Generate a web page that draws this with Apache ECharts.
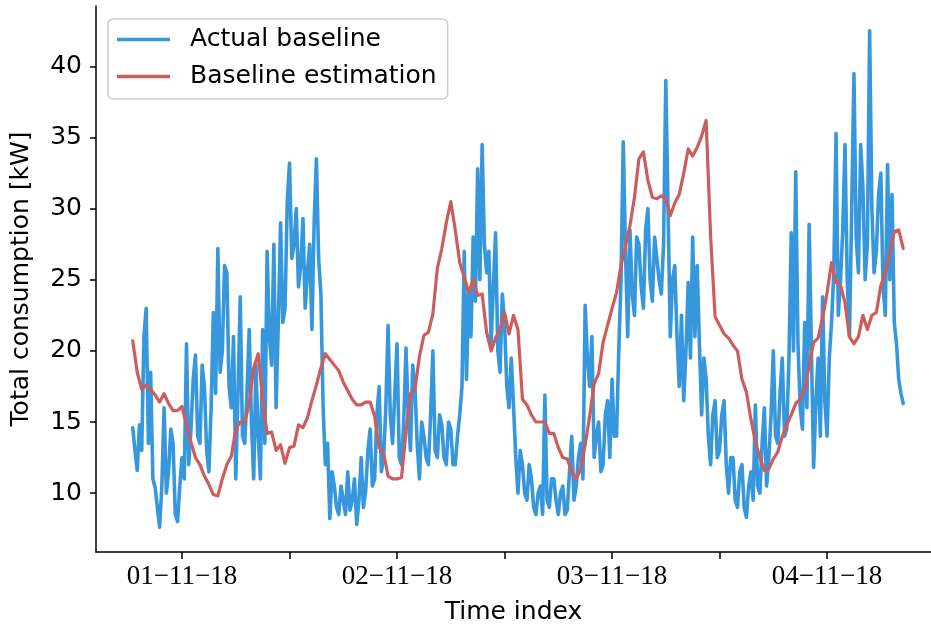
<!DOCTYPE html>
<html><head><meta charset="utf-8">
<script src="https://cdn.jsdelivr.net/npm/echarts@6/dist/echarts.min.js"></script>
<style>html,body{margin:0;padding:0;background:#fff}#c{width:931px;height:630px}</style>
</head><body><div id="c"></div>
<script>
// ---- data ----
const seriesNames = ['Actual baseline', 'Baseline estimation'];
const xTickLabels = ['01−11−18', '02−11−18', '03−11−18', '04−11−18'];
const xLabelHours = [0, 24, 48, 72];
const xTickHours = [0, 12, 24, 36, 48, 60, 72];
const yTickValues = [10, 15, 20, 25, 30, 35, 40];
// first sample 5.5 h before the first date label
const startHour = -5.5;
const actualStepHours = 0.25;      // quarter-hour samples
const estimationStepHours = 0.5;   // half-hour samples
const actualBaseline = [
  14.6, 13.0, 11.6, 14.8, 13.0, 21.0, 23.0, 13.5, 18.5, 11.0, 10.4, 9.0, 7.6, 10.5, 16.0, 10.0, 11.5, 14.5, 13.5, 8.5,
  8.0, 10.5, 12.5, 11.0, 20.5, 12.0, 14.5, 18.0, 19.7, 14.0, 13.5, 19.0, 17.5, 13.0, 11.5, 16.0, 22.7, 17.0, 27.2, 18.5,
  20.0, 26.0, 25.5, 17.5, 16.0, 21.0, 11.0, 17.0, 23.8, 14.0, 13.5, 17.0, 21.5, 15.0, 11.0, 19.0, 14.0, 11.0, 21.5, 13.5,
  27.0, 21.0, 19.0, 27.5, 16.0, 22.0, 29.0, 22.0, 23.0, 30.5, 33.2, 26.5, 27.5, 30.0, 24.5, 26.0, 29.3, 23.0, 25.5, 27.5,
  21.5, 29.0, 33.5, 26.5, 24.0, 16.0, 12.0, 13.5, 8.2, 11.5, 10.5, 9.0, 8.5, 10.5, 9.5, 8.5, 11.5, 8.8, 9.5, 11.0,
  7.8, 9.5, 12.5, 9.0, 10.2, 13.0, 14.5, 10.5, 11.0, 15.5, 17.5, 11.5, 12.5, 16.0, 21.8, 15.5, 13.5, 17.0, 20.5, 12.5,
  12.0, 15.0, 20.2, 15.5, 13.0, 19.0, 17.5, 13.5, 11.0, 15.0, 14.0, 12.5, 12.0, 15.5, 20.0, 13.0, 12.5, 15.5, 14.8, 12.5,
  12.0, 15.0, 14.5, 12.0, 12.0, 14.0, 15.5, 17.5, 27.0, 18.0, 24.0, 21.0, 28.0, 23.5, 32.8, 25.0, 34.5, 27.5, 25.5, 27.0,
  20.5, 24.5, 28.3, 20.0, 18.5, 24.0, 22.0, 17.5, 16.0, 19.5, 16.2, 12.5, 10.0, 13.0, 12.0, 10.0, 9.5, 12.0, 11.0, 9.0,
  8.5, 10.0, 10.5, 8.5, 16.9, 9.5, 9.0, 11.0, 11.0, 9.5, 8.5, 10.0, 10.5, 8.5, 8.8, 11.5, 14.0, 9.5, 10.5, 12.5,
  13.5, 11.0, 23.2, 19.5, 17.5, 21.0, 12.5, 14.0, 15.0, 11.5, 12.0, 15.5, 16.5, 12.5, 18.0, 14.0, 14.0, 20.0, 25.0, 34.7,
  27.0, 21.0, 28.5, 24.0, 22.5, 28.0, 27.5, 24.5, 23.0, 28.5, 30.0, 25.0, 23.5, 28.0, 26.5, 25.0, 24.0, 27.5, 39.0, 30.0,
  21.0, 25.0, 26.0, 21.0, 17.5, 22.5, 16.5, 20.0, 24.8, 19.5, 28.0, 21.0, 26.0, 20.5, 15.5, 19.5, 18.0, 14.0, 12.0, 15.5,
  16.5, 12.5, 13.0, 15.5, 16.5, 12.0, 10.0, 12.5, 12.5, 9.5, 9.0, 11.5, 12.0, 9.0, 8.3, 10.5, 11.5, 9.5, 16.2, 10.5,
  10.0, 13.5, 16.0, 10.5, 12.5, 15.5, 20.0, 14.0, 13.5, 17.0, 19.5, 14.0, 14.5, 19.5, 28.3, 20.0, 32.6, 20.5, 16.0, 14.5,
  22.0, 16.0, 28.9, 20.0, 11.8, 16.5, 19.5, 14.0, 23.8, 16.5, 14.0, 19.5, 22.0, 25.5, 35.3, 22.5, 25.0, 28.5, 34.5, 25.0,
  21.0, 30.0, 39.5, 28.0, 25.5, 34.5, 31.5, 25.0, 27.5, 42.5, 30.0, 25.5, 27.0, 31.0, 32.5, 24.5, 22.5, 33.1, 25.0, 31.0,
  22.0, 20.5, 18.0, 17.0, 16.3
];
const baselineEstimation = [
  20.7, 18.5, 17.3, 17.6, 17.3, 16.9, 16.4, 17.0, 16.3, 15.8,
  15.8, 16.1, 14.8, 13.6, 12.5, 12.0, 11.2, 10.6, 9.9, 9.8,
  11.0, 12.0, 12.6, 14.5, 15.0, 15.0, 16.3, 18.8, 19.8, 16.6,
  14.2, 14.3, 13.0, 13.4, 12.1, 13.2, 13.3, 14.8, 14.6, 15.3,
  16.5, 17.6, 18.8, 19.8, 19.4, 19.0, 18.6, 17.8, 17.2, 16.6,
  16.2, 16.2, 16.4, 16.4, 15.4, 13.2, 12.8, 11.2, 11.0, 11.0,
  11.1, 14.3, 17.0, 17.3, 19.6, 21.1, 21.3, 22.6, 25.8, 27.2,
  29.0, 30.5, 28.5, 26.2, 25.2, 24.1, 25.0, 23.9, 24.0, 21.3,
  20.0, 20.9, 21.5, 22.7, 21.2, 22.5, 21.5, 16.6, 16.2, 15.5,
  15.0, 15.0, 15.0, 14.2, 14.2, 13.2, 12.5, 12.4, 11.5, 11.0,
  11.7, 13.4, 15.4, 17.7, 18.4, 20.6, 21.8, 23.0, 24.1, 26.0,
  27.4, 28.8, 30.8, 33.5, 34.0, 32.0, 30.8, 30.7, 30.9, 30.7,
  29.5, 30.4, 31.0, 32.5, 34.2, 33.7, 34.3, 35.1, 36.2, 28.1,
  22.4, 21.8, 21.2, 20.9, 20.4, 20.0, 18.0, 17.1, 15.2, 13.6,
  12.5, 11.6, 11.7, 12.4, 12.9, 14.0, 14.8, 15.5, 16.3, 16.6,
  17.3, 19.0, 20.6, 20.9, 22.3, 24.1, 26.2, 24.8, 24.6, 23.4,
  21.0, 20.5, 21.0, 22.5, 21.5, 22.5, 22.7, 24.6, 25.5, 26.9,
  28.4, 28.5, 27.2
];

const toPairs = (arr, step) => arr.map((v, i) => [startHour + i * step, v]);
const FONT = 'DejaVu Sans';

const chart = echarts.init(document.getElementById('c'), null, { renderer: 'canvas' });
chart.setOption({
  animation: false,
  backgroundColor: '#ffffff',
  grid: { left: 96, right: 0, top: 6, bottom: 76, containLabel: false },
  legend: {
    orient: 'vertical',
    left: 108, top: 19,
    padding: [8, 11, 10, 9],
    itemGap: 12,
    itemWidth: 53, itemHeight: 3.5,
    icon: 'rect',
    borderColor: '#cccccc', borderWidth: 1.5, borderRadius: 5,
    backgroundColor: 'rgba(255,255,255,0.85)',
    textStyle: { fontFamily: FONT, fontSize: 25, color: '#000', padding: [0, 0, 0, 15] },
    data: seriesNames
  },
  xAxis: {
    type: 'value',
    min: -9.6, max: 83.6,
    name: 'Time index',
    nameLocation: 'middle',
    nameGap: 48,
    nameTextStyle: { fontFamily: FONT, fontSize: 25, color: '#000' },
    axisLine: { show: true, onZero: false, lineStyle: { color: '#000', width: 1.5 } },
    axisTick: { show: true, customValues: xTickHours, length: 7, lineStyle: { color: '#000', width: 1.5 } },
    axisLabel: {
      customValues: xLabelHours,
      formatter: v => xTickLabels[xLabelHours.indexOf(v)] || '',
      fontFamily: 'Liberation Serif', fontSize: 27, color: '#000', margin: 11
    },
    splitLine: { show: false }
  },
  yAxis: {
    type: 'value',
    min: 5.86, max: 44.25,
    name: 'Total consumption [kW]',
    nameLocation: 'middle',
    nameGap: 62,
    nameTextStyle: { fontFamily: FONT, fontSize: 25, color: '#000' },
    axisLine: { show: true, onZero: false, lineStyle: { color: '#000', width: 1.5 } },
    axisTick: { show: true, customValues: yTickValues, length: 6, lineStyle: { color: '#000', width: 1.5 } },
    axisLabel: { customValues: yTickValues, fontFamily: FONT, fontSize: 25, color: '#000', margin: 14 },
    splitLine: { show: false }
  },
  series: [
    {
      name: seriesNames[0], type: 'line', data: toPairs(actualBaseline, actualStepHours),
      showSymbol: false, symbol: 'none',
      lineStyle: { color: '#3797dc', width: 3.6, join: 'round', cap: 'round' }, itemStyle: { color: '#3797dc' },
      z: 2
    },
    {
      name: seriesNames[1], type: 'line', data: toPairs(baselineEstimation, estimationStepHours),
      showSymbol: false, symbol: 'none',
      lineStyle: { color: '#cd5c5c', width: 3.2, join: 'round', cap: 'round' }, itemStyle: { color: '#cd5c5c' },
      z: 3
    }
  ]
});
</script>
</body></html>
